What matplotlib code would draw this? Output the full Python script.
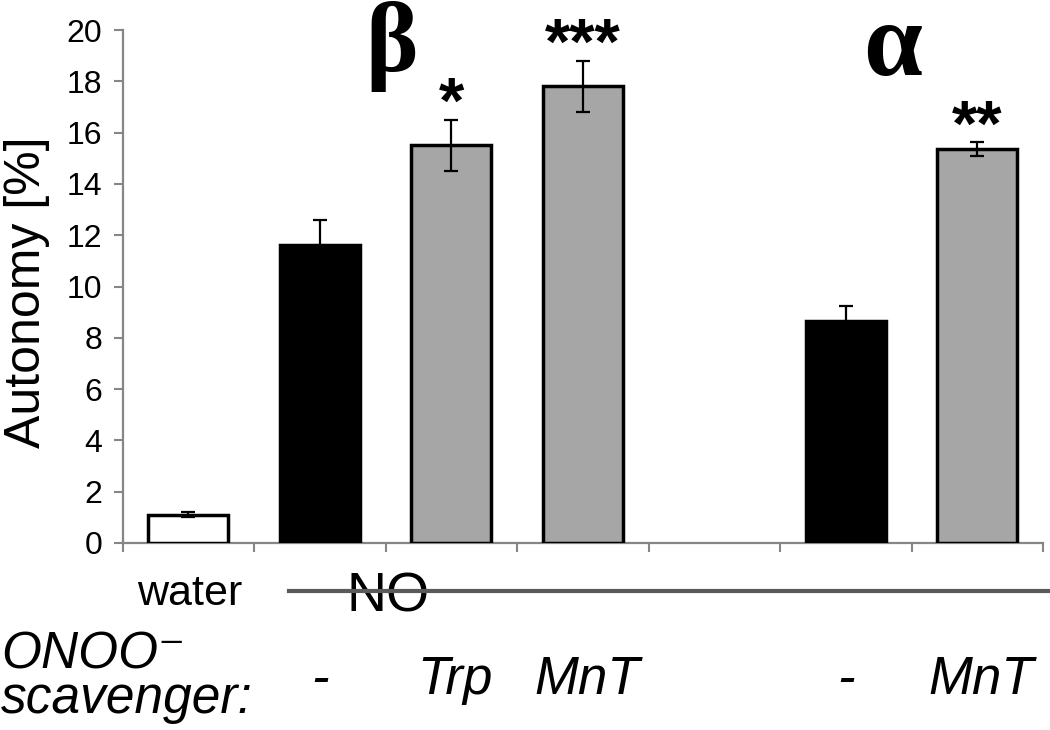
import numpy as np
import matplotlib
matplotlib.use("Agg")
import matplotlib.pyplot as plt
from matplotlib.lines import Line2D
from matplotlib.transforms import blended_transform_factory

plt.rcParams['font.family'] = ['Liberation Sans', 'DejaVu Sans']

# data (empty slot between the beta and alpha groups)
slots = ["water", "NO", "NO+Trp", "NO+MnT", "", "NO alpha", "NO alpha+MnT"]
values = [1.1, 11.6, 15.5, 17.8, np.nan, 8.65, 15.35]
errors = [0.1, 1.0, 1.0, 1.0, np.nan, 0.6, 0.27]
bar_colors = ["white", "black", "#a6a6a6", "#a6a6a6", "none", "black", "#a6a6a6"]
stars = ["", "", "*", "***", "", "", "**"]
scavenger = ["", "-", "Trp", "MnT", "", "-", "MnT"]

W, H = 1050, 730


def fx(px):
    return px / W


def fy(py):
    return 1 - py / H


fig = plt.figure(figsize=(W / 100, H / 100), dpi=100)
ax = fig.add_axes([fx(122.6), fy(543), 920.4 / W, 513 / H])

x = np.arange(len(slots))
mask = ~np.isnan(values)
ax.bar(x[mask], np.array(values)[mask], width=0.61,
       color=[c for c, m in zip(bar_colors, mask) if m],
       edgecolor="black", linewidth=2.5, zorder=3)
ax.errorbar(x[mask], np.array(values)[mask], yerr=np.array(errors)[mask],
            fmt="none", ecolor="black", elinewidth=1.6, capsize=5,
            capthick=1.6, zorder=4)

for xi, v, e, s in zip(x, values, errors, stars):
    if s:
        ax.annotate(s, (xi, v + e), xytext=(0, -3), textcoords="offset pixels",
                    ha="center", va="baseline", fontsize=47, fontweight="bold")

ax.set_xlim(-0.5, len(slots) - 0.5)
ax.set_ylim(0, 20)
ax.set_yticks(np.arange(0, 21, 2))
ax.set_xticks(np.arange(-0.5, len(slots), 1.0))
ax.set_xticklabels([])
ax.tick_params(axis="y", labelsize=23, length=6.5, width=1.5,
               color="#868686", pad=8)
ax.tick_params(axis="x", length=6.5, width=1.5, color="#868686")
for side in ["top", "right"]:
    ax.spines[side].set_visible(False)
for side in ["left", "bottom"]:
    ax.spines[side].set_color("#868686")
    ax.spines[side].set_linewidth(1.6)

fig.text(fx(27), fy(292), "Autonomy [%]", fontsize=36, rotation=90,
         ha="center", va="center")

# greek group headers
fig.text(fx(392), fy(0.5), "β", family="Liberation Serif", fontweight="bold",
         fontsize=72, ha="center", va="top")
fig.text(fx(893), fy(0.5), "α", family="Liberation Serif", fontweight="bold",
         fontsize=76, ha="center", va="top")

# treatment rows under the axis
fig.text(fx(190), fy(605), "water", fontsize=31, ha="center", va="baseline")
fig.text(fx(388), fy(612), "NO", fontsize=40, ha="center", va="baseline")
fig.add_artist(Line2D([fx(289), fx(1048)], [fy(591), fy(591)],
                      color="#5a5a5a", linewidth=3, zorder=5))

fig.text(fx(1), fy(713), "ONOO\u207b\nscavenger:", fontsize=37, style="italic",
         va="baseline", linespacing=0.88)

trans = blended_transform_factory(ax.transData, fig.transFigure)
for xi, lab in zip(x, scavenger):
    if lab:
        ax.annotate(lab, (xi, fy(694)), xycoords=trans,
                    xytext=(4 if len(lab) > 1 else 0, 0),
                    textcoords="offset pixels", fontsize=38,
                    style="italic", ha="center", va="baseline")

fig.savefig("out.png", dpi=100)
